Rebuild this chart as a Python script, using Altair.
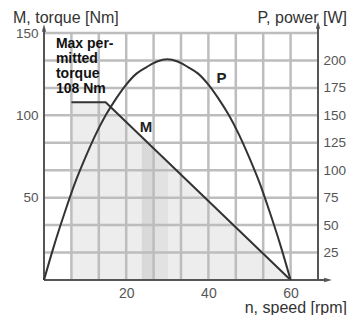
import altair as alt
import pandas as pd

# ---- data ----
speed_p = [0, 2.5, 5, 7.5, 10, 12.5, 15, 17.5, 20, 22.5, 25, 27.5, 30,
           32.5, 35, 37.5, 40, 42.5, 45, 47.5, 50, 52.5, 55, 57.5, 60]
power_w = [0, 32, 61, 88, 111, 132, 150, 165, 178, 188, 194, 199, 201,
           199, 194, 188, 178, 165, 150, 132, 111, 88, 61, 32, 0]

speed_m = [6.67, 15, 60]
torque_m = [108, 108, 0]

band_dark_n = [23.8, 27.0]
band_dark_m = [86.9, 79.2]
band_mid_n = [27.0, 30.2]
band_mid_m = [79.2, 71.5]

x_grid = [6.667, 13.333, 20, 26.667, 33.333, 40, 46.667, 53.333, 60]
x_labels = [20, 40, 60]
y_grid = [16.667, 33.333, 50, 66.667, 83.333, 100, 116.667, 133.333, 150]
y_labels = [50, 100, 150]
w_ticks = [25, 50, 75, 100, 125, 150, 175, 200]

annotation = "Max per-\nmitted\ntorque\n108 Nm"

# ---- tables ----
df_p = pd.DataFrame({"n": speed_p, "P": power_w})
df_m = pd.DataFrame({"n": speed_m, "M": torque_m})
df_bd = pd.DataFrame({"n": band_dark_n, "M": band_dark_m})
df_bm = pd.DataFrame({"n": band_mid_n, "M": band_mid_m})
df_gx = pd.DataFrame({"g": x_grid})
df_gy = pd.DataFrame({"g": y_grid})
one = alt.Data(values=[{}])

FONT = "Liberation Sans"
W, H = 274, 247
GRID = "#bdbdbd"

xs = alt.Scale(domain=[0, 66.667], nice=False, zero=False)
ys = alt.Scale(domain=[0, 150], nice=False, zero=False)
ws = alt.Scale(domain=[0, 225], nice=False, zero=False)

x_axis = alt.Axis(values=x_labels, title=None, domain=False, ticks=False,
                  grid=False, format="d",
                  labelFont=FONT, labelFontSize=14, labelColor="#555555",
                  labelPadding=6, labelOverlap=False, labelFlush=False)
y_axis = alt.Axis(values=y_labels, title=None, domain=False, ticks=False,
                  grid=False, format="d",
                  labelFont=FONT, labelFontSize=13.5, labelColor="#555555",
                  labelPadding=6, labelOverlap=False, labelFlush=False)
w_axis = alt.Axis(values=w_ticks, title=None, orient="right", domain=False,
                  ticks=False, grid=False, labelFont=FONT, labelFontSize=13.5,
                  labelColor="#555555", labelPadding=5, labelOverlap=False,
                  labelFlush=False)


def XF(field):
    return alt.X(field, type="quantitative", scale=xs, axis=x_axis)


def YF(field):
    return alt.Y(field, type="quantitative", scale=ys, axis=y_axis)


fill_all = alt.Chart(df_m).mark_area(color="#ededed").encode(
    x=XF("n"), y=YF("M"))
fill_dark = alt.Chart(df_bd).mark_area(color="#d9d9d9").encode(
    x=XF("n"), y=YF("M"))
fill_mid = alt.Chart(df_bm).mark_area(color="#e2e2e2").encode(
    x=XF("n"), y=YF("M"))
grid_v = alt.Chart(df_gx).mark_rule(color=GRID, strokeWidth=2.5).encode(
    x=XF("g"), y=alt.value(0), y2=alt.value(H))
grid_h = alt.Chart(df_gy).mark_rule(color=GRID, strokeWidth=2.5).encode(
    y=YF("g"), x=alt.value(0), x2=alt.value(W))
m_line = alt.Chart(df_m).mark_line(color="#333333", strokeWidth=2).encode(
    x=XF("n"), y=YF("M"))

label_df = pd.DataFrame({"n": [24.8, 43.2], "M": [93, 122.5], "t": ["M", "P"]})
labels = alt.Chart(label_df).mark_text(font=FONT, fontWeight="bold",
                                       fontSize=15, color="#222222").encode(
    x=XF("n"), y=YF("M"), text="t:N")
note_df = pd.DataFrame({"n": [2.9], "M": [141]})
note = alt.Chart(note_df).mark_text(text=annotation.split("\n"), font=FONT,
                                    fontWeight="bold", fontSize=14, lineHeight=15,
                                    align="left", baseline="alphabetic",
                                    color="#111111").encode(
    x=XF("n"), y=YF("M"))

# axis lines with arrowheads
ax_col = "#555555"
left_line = alt.Chart(one).mark_rule(color=ax_col, strokeWidth=2).encode(
    x=alt.value(0), y=alt.value(H), y2=alt.value(-3))
right_line = alt.Chart(one).mark_rule(color=ax_col, strokeWidth=2).encode(
    x=alt.value(W), y=alt.value(H), y2=alt.value(-6))
bottom_line = alt.Chart(one).mark_rule(color=ax_col, strokeWidth=2).encode(
    x=alt.value(0), x2=alt.value(W + 8), y=alt.value(H))
up_arrow = "M -0.55 1 L 0 -1 L 0.55 1 Z"
right_arrow = "M -1 -0.55 L 1 0 L -1 0.55 Z"
arr_left = alt.Chart(one).mark_point(shape=up_arrow, filled=True, size=60,
                                     color=ax_col, opacity=1).encode(
    x=alt.value(0), y=alt.value(-5))
arr_right = alt.Chart(one).mark_point(shape=up_arrow, filled=True, size=60,
                                      color=ax_col, opacity=1).encode(
    x=alt.value(W), y=alt.value(-8))
arr_bottom = alt.Chart(one).mark_point(shape=right_arrow, filled=True, size=60,
                                       color=ax_col, opacity=1).encode(
    x=alt.value(W + 10), y=alt.value(H))


def title(txt, x, y, align):
    return alt.Chart(one).mark_text(text=txt, font=FONT, fontSize=16,
                                    color="#333333", align=align,
                                    baseline="alphabetic").encode(
        x=alt.value(x), y=alt.value(y))


t_m = title("M, torque [Nm]", -31, -10, "left")
t_p = title("P, power [W]", 303, -10, "right")
t_n = title("n, speed [rpm]", 303, 280, "right")

nm_group = alt.layer(fill_all, fill_dark, fill_mid, grid_v, grid_h, m_line,
                     labels, note, left_line, right_line, bottom_line,
                     arr_left, arr_right, arr_bottom, t_m, t_p, t_n)

p_line = alt.Chart(df_p).mark_line(color="#333333", strokeWidth=2,
                                   interpolate="monotone").encode(
    x=XF("n"),
    y=alt.Y("P", type="quantitative", scale=ws, axis=w_axis))

chart = alt.layer(nm_group, p_line).resolve_scale(y="independent").properties(
    width=W, height=H,
    autosize=alt.AutoSizeParams(type="none"),
    padding={"left": 36, "top": 25, "right": 32, "bottom": 35},
    background="white",
).configure_view(stroke=None)

chart.save("out.html", embed_options={"renderer": "svg", "actions": False})
